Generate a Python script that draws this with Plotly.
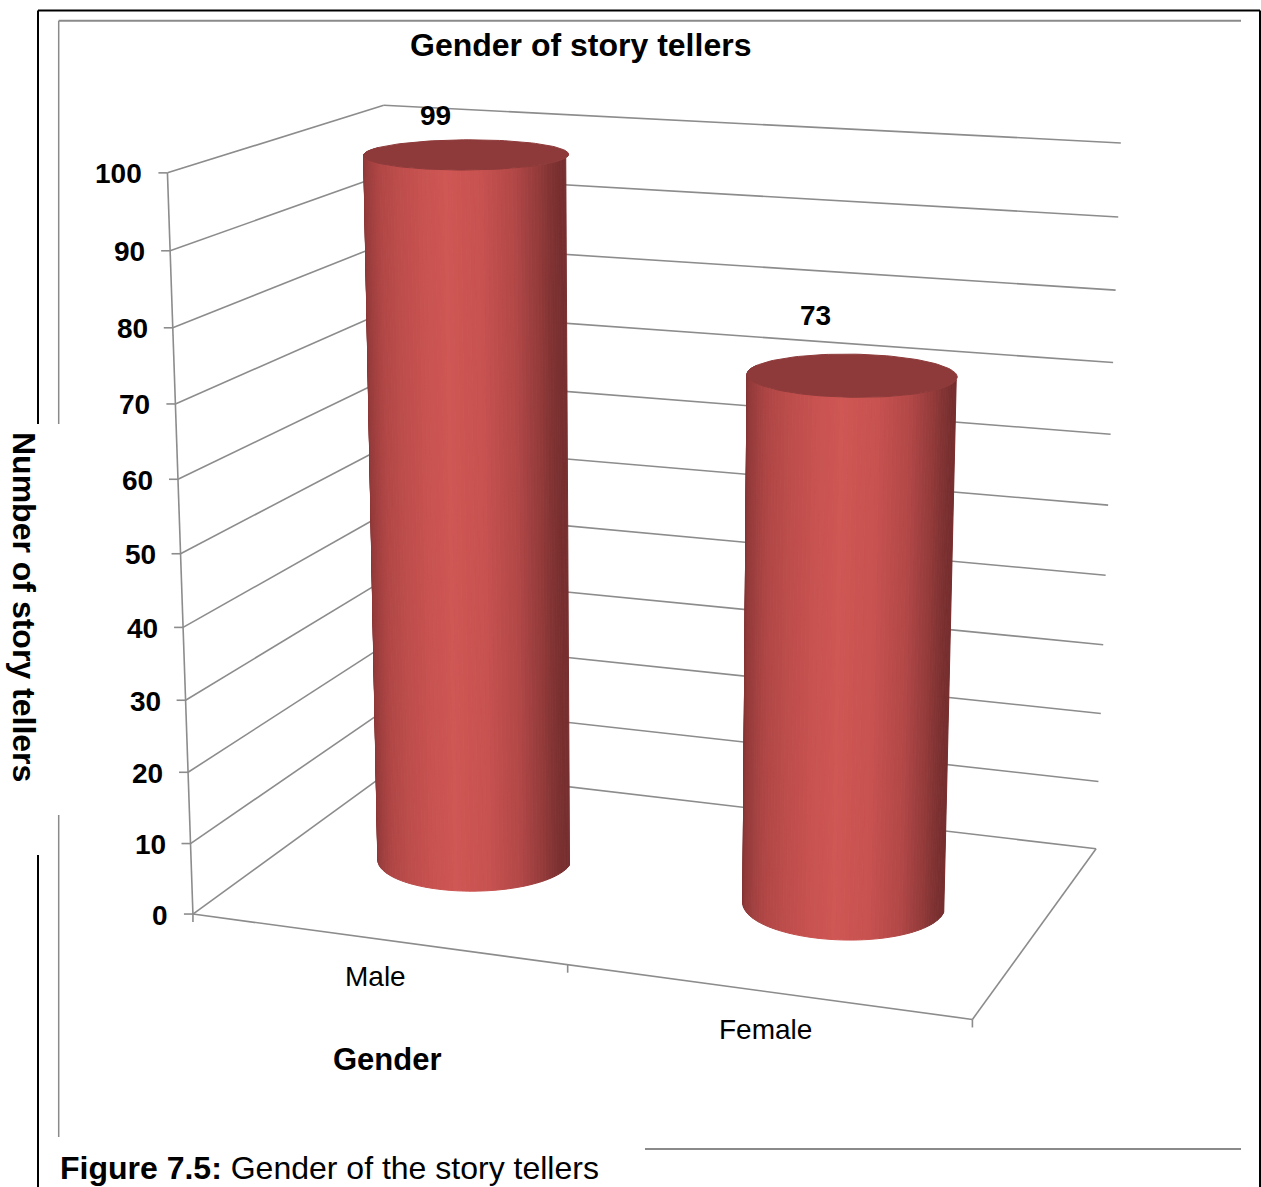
import numpy as np
import plotly.graph_objects as go

# ---- chart data ----
categories = ["Male", "Female"]
counts = [99, 73]
value_ticks = [0, 10, 20, 30, 40, 50, 60, 70, 80, 90, 100]
tick_labels = [str(v) for v in value_ticks]

chart_title = "Gender of story tellers"
x_title = "Gender"
y_title = "Number of story tellers"
caption_bold = "Figure 7.5:"
caption_rest = " Gender of the story tellers"

# ---- page / scene geometry ----
W, H = 1261, 1187
N_CAT = len(categories)
V_MAX = value_ticks[-1]

# Page positions (px) of a few corners of the 3D plot box
# (category, value, depth) -> (x, y); a perspective camera is solved from them.
BOX_ANCHORS = [
    ((0, 100, 0), (167, 173)),
    ((0, 70, 0), (176, 404)),
    ((0, 50, 0), (180, 554)),
    ((0, 30, 0), (186, 700)),
    ((0, 0, 0), (193, 914)),
    ((0, 100, 1), (384, 105)),
    ((2, 100, 1), (1121, 143)),
    ((2, 90, 1), (1118, 217)),
    ((2, 50, 1), (1108, 505)),
    ((2, 0, 1), (1096, 849)),
    ((1, 0, 0), (567, 965)),
    ((2, 0, 0), (973, 1019)),
]

BAR_RX = 0.253      # cylinder radius along the category axis
BAR_RZ = 0.20       # cylinder radius along the depth axis
BAR_CZ = 0.5        # cylinder centre in depth

GRID = "#8C8C8C"
FONT = "Liberation Sans, Arial, Helvetica, sans-serif"
TOP_COLOR = "rgb(143,58,58)"
SIDE_STOPS = [
    (0.00, (118, 46, 46)),
    (0.07, (146, 58, 58)),
    (0.22, (176, 71, 70)),
    (0.44, (197, 81, 79)),
    (0.60, (207, 87, 84)),
    (0.75, (199, 82, 80)),
    (0.88, (178, 72, 71)),
    (0.96, (146, 58, 58)),
    (1.00, (120, 47, 47)),
]
LABEL_NUDGE = [(-31, -39), (-36, -60)]


def solve_camera(anchors):
    pts = np.array([a[0] for a in anchors], float)
    pts[:, 1] /= V_MAX
    px = np.array([a[1] for a in anchors], float)
    mu = px.mean(0)
    s = np.sqrt(2) / np.mean(np.linalg.norm(px - mu, axis=1))
    T = np.array([[s, 0, -s * mu[0]], [0, s, -s * mu[1]], [0, 0, 1]])
    pn = (px - mu) * s
    rows = []
    for P3, (u, v) in zip(pts, pn):
        P = np.append(P3, 1.0)
        rows.append(np.concatenate([P, np.zeros(4), -u * P]))
        rows.append(np.concatenate([np.zeros(4), P, -v * P]))
    _, _, Vt = np.linalg.svd(np.array(rows))
    M = Vt[-1].reshape(3, 4)
    return np.linalg.inv(T) @ M


CAM = solve_camera(BOX_ANCHORS)


def project(X, Y, Z):
    X, Y, Z = np.broadcast_arrays(np.asarray(X, float), np.asarray(Y, float), np.asarray(Z, float))
    h = CAM @ np.vstack([X.ravel(), Y.ravel() / V_MAX, Z.ravel(), np.ones(X.size)])
    return h[0] / h[2], h[1] / h[2]


def shade(u):
    u = min(max(u, 0.0), 1.0)
    for (u0, c0), (u1, c1) in zip(SIDE_STOPS[:-1], SIDE_STOPS[1:]):
        if u <= u1:
            t = (u - u0) / (u1 - u0) if u1 > u0 else 0
            c = [round(a + (b - a) * t) for a, b in zip(c0, c1)]
            return f"rgb({c[0]},{c[1]},{c[2]})"
    c = SIDE_STOPS[-1][1]
    return f"rgb({c[0]},{c[1]},{c[2]})"


fig = go.Figure()


def add_segments(segs, color=GRID, width=1.6):
    xs, ys = [], []
    for (x0, y0), (x1, y1) in segs:
        xs += [x0, x1, None]
        ys += [y0, y1, None]
    fig.add_trace(go.Scatter(x=xs, y=ys, mode="lines", line=dict(color=color, width=width),
                             hoverinfo="skip", showlegend=False))


def seg3d(a, b):
    x, y = project([a[0], b[0]], [a[1], b[1]], [a[2], b[2]])
    return (x[0], y[0]), (x[1], y[1])


# ---- walls: gridlines on the side wall and the back wall ----
grid = []
for v in value_ticks:
    grid.append(seg3d((0, v, 0), (0, v, 1)))
    grid.append(seg3d((0, v, 1), (N_CAT, v, 1)))
# value axis, category axis and the right floor edge
grid.append(seg3d((0, 0, 0), (0, V_MAX, 0)))
grid.append(seg3d((0, 0, 0), (N_CAT, 0, 0)))
grid.append(seg3d((N_CAT, 0, 0), (N_CAT, 0, 1)))
# tick marks
for v in value_ticks:
    (x0, y0), _ = seg3d((0, v, 0), (0, v, 0))
    grid.append(((x0 - 9, y0), (x0, y0)))
for k in range(N_CAT + 1):
    (x0, y0), _ = seg3d((k, 0, 0), (k, 0, 0))
    grid.append(((x0, y0), (x0, y0 + 8)))
add_segments(grid)

# ---- cylinders ----
for i, val in enumerate(counts):
    cx = i + 0.5
    phis = np.linspace(-np.pi / 2 * 1.08, np.pi / 2 * 1.08, 81)
    strips = []
    for a, b in zip(phis[:-1], phis[1:]):
        ring = np.linspace(a, b, 3)
        xs = cx + BAR_RX * np.sin(ring)
        zs = BAR_CZ - BAR_RZ * np.cos(ring)
        tx, ty = project(xs, val, zs)
        bx, by = project(xs, 0, zs)
        px = np.concatenate([tx, bx[::-1], tx[:1]])
        py = np.concatenate([ty, by[::-1], ty[:1]])
        mid = 0.5 * (a + b)
        strips.append((np.cos(mid), px, py, shade((np.sin(mid) + 1) / 2)))
    strips.sort(key=lambda s: s[0])
    for _, px, py, col in strips:
        fig.add_trace(go.Scatter(x=px, y=py, mode="lines", fill="toself", fillcolor=col,
                                 line=dict(color=col, width=1), hoverinfo="skip", showlegend=False))
    ring = np.linspace(0, 2 * np.pi, 121)
    tx, ty = project(cx + BAR_RX * np.sin(ring), val, BAR_CZ - BAR_RZ * np.cos(ring))
    fig.add_trace(go.Scatter(x=tx, y=ty, mode="lines", fill="toself", fillcolor=TOP_COLOR,
                             line=dict(color=TOP_COLOR, width=1), hoverinfo="skip", showlegend=False))

# ---- text ----
ann = []
for v, lab in zip(value_ticks, tick_labels):
    x0, y0 = project(0, v, 0)
    ann.append(dict(x=x0[0] - 23, y=y0[0] + 1, text=f"<b>{lab}</b>", xanchor="right", yanchor="middle",
                    font=dict(size=28, color="black", family=FONT)))
for i, cat in enumerate(categories):
    x0, y0 = project(i + 0.5, 0, 0)
    ann.append(dict(x=x0[0] - 1, y=y0[0] + 38, text=cat, xanchor="center", yanchor="middle",
                    font=dict(size=28, color="black", family=FONT)))
for i, val in enumerate(counts):
    x0, y0 = project(i + 0.5, val, BAR_CZ)
    dx, dy = LABEL_NUDGE[i]
    ann.append(dict(x=x0[0] + dx, y=y0[0] + dy, text=f"<b>{val}</b>", xanchor="center", yanchor="middle",
                    font=dict(size=28, color="black", family=FONT)))
ann.append(dict(x=580, y=45, text=f"<b>{chart_title}</b>", xanchor="center", yanchor="middle",
                font=dict(size=32, color="black", family=FONT)))
ann.append(dict(x=24, y=607, text=f"<b>{y_title}</b>", textangle=90, xanchor="center", yanchor="middle",
                font=dict(size=32, color="black", family=FONT)))
ann.append(dict(x=387, y=1059, text=f"<b>{x_title}</b>", xanchor="center", yanchor="middle",
                font=dict(size=31, color="black", family=FONT)))
ann.append(dict(x=58, y=1168, text=f"<b>{caption_bold}</b>{caption_rest}", xanchor="left", yanchor="middle",
                font=dict(size=32, color="black", family=FONT)))
for a in ann:
    a.update(xref="x", yref="y", showarrow=False)

# ---- page frames ----
shapes = []
for (x0, y0, x1, y1) in [(38, 10.5, 1260, 10.5), (1260, 10.5, 1260, 1187),
                         (38, 10.5, 38, 424), (38, 855, 38, 1187)]:
    shapes.append(dict(type="line", x0=x0, y0=y0, x1=x1, y1=y1, xref="x", yref="y",
                       line=dict(color="black", width=2)))
for (x0, y0, x1, y1, w) in [(58.7, 20.7, 1241, 20.7, 2), (58.7, 20.7, 58.7, 424, 1.5),
                            (58.7, 815, 58.7, 1137, 1.5), (645, 1149, 1241, 1149, 2)]:
    shapes.append(dict(type="line", x0=x0, y0=y0, x1=x1, y1=y1, xref="x", yref="y",
                       line=dict(color="#8A8A8A", width=w)))

fig.update_layout(
    width=W, height=H, margin=dict(l=0, r=0, t=0, b=0),
    paper_bgcolor="white", plot_bgcolor="white", showlegend=False,
    xaxis=dict(range=[0, W], visible=False, fixedrange=True),
    yaxis=dict(range=[H, 0], visible=False, fixedrange=True),
    annotations=ann, shapes=shapes,
)
fig.write_html("out.html")
